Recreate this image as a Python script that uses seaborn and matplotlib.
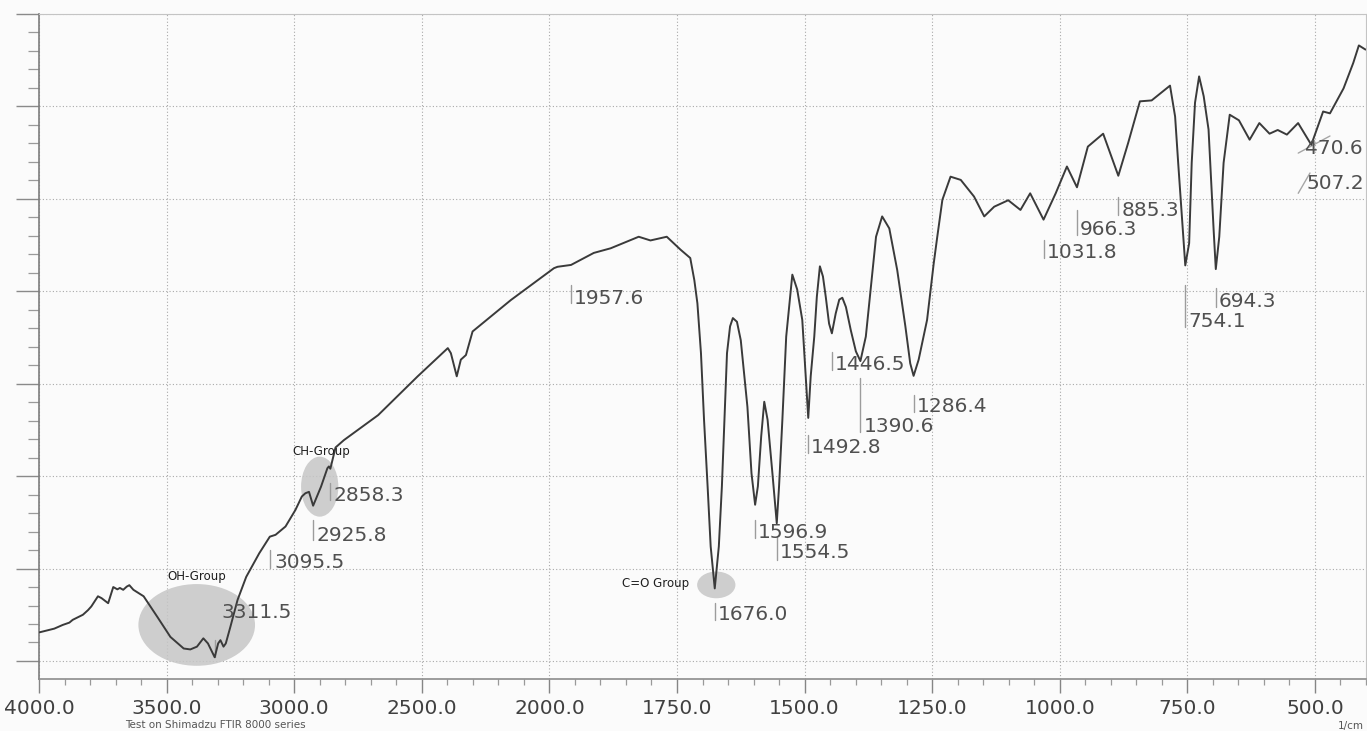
import numpy as np
import matplotlib
matplotlib.use("Agg")
import matplotlib.pyplot as plt
from matplotlib.patches import Ellipse
from matplotlib.ticker import FixedLocator, FuncFormatter, NullFormatter
import seaborn as sns

# ---------------------------------------------------------------- data
wavenumber = [
    3998, 3940, 3907, 3881, 3868, 3828, 3808, 3795, 3769, 3755, 3729, 3709,
    3693, 3683, 3670, 3656, 3646, 3630, 3590, 3537, 3485, 3433, 3407, 3381,
    3356, 3338, 3311.5, 3298, 3289, 3277, 3268, 3250, 3222, 3188, 3137,
    3095.5, 3073, 3034, 2995, 2970, 2956, 2942, 2925.8, 2895, 2870, 2864,
    2858.3, 2838, 2805, 2671, 2516, 2398, 2386, 2363, 2347, 2327, 2301, 2151,
    1991, 1984, 1957.6, 1913, 1880, 1825, 1802, 1770, 1743, 1724, 1716, 1710,
    1703, 1697, 1690, 1684, 1676.0, 1668, 1662, 1657, 1652, 1646, 1640.5,
    1632.5, 1625, 1612, 1604, 1596.9, 1591.5, 1585, 1579, 1572.5, 1563,
    1554.5, 1550, 1543.5, 1536, 1524, 1514.5, 1504.5, 1498.5, 1492.8, 1488,
    1481, 1476, 1470, 1464, 1458.5, 1452, 1446.5, 1439, 1432, 1426, 1419,
    1409.5, 1399.5, 1390.6, 1380, 1370, 1360, 1348, 1334, 1318.5, 1302.5,
    1293, 1286.4, 1276.5, 1260, 1247, 1240, 1230, 1214, 1194, 1168, 1148,
    1128.5, 1101, 1077, 1058, 1031.8, 1008, 986, 966.3, 945, 915, 885.3, 866,
    843, 820, 801, 784, 774, 768, 758, 754.1, 746.5, 741.5, 735, 727, 718,
    708.5, 698.5, 694.3, 687.5, 679, 667, 649, 628, 609, 589, 573, 555, 533,
    507.2, 484, 470.6, 444, 425, 414, 401,
]
transmittance = [
    3.1, 3.5, 3.9, 4.15, 4.45, 5.0, 5.5, 5.9, 7.0, 6.8, 6.25, 8.0,
    7.75, 7.9, 7.7, 8.05, 8.2, 7.7, 7.0, 4.8, 2.6, 1.35, 1.25, 1.55,
    2.45, 1.9, 0.4, 1.9, 2.25, 1.55, 1.9, 3.7, 6.6, 9.1, 11.65,
    13.45, 13.65, 14.55, 16.35, 17.8, 18.15, 18.3, 16.8, 18.85, 20.85, 21.05,
    20.8, 23.1, 23.9, 26.6, 30.8, 33.85, 33.3, 30.8, 32.6, 33.1, 35.65, 39.05,
    42.5, 42.65, 42.85, 44.15, 44.65, 45.9, 45.5, 45.9, 44.5, 43.6, 41.2, 38.7,
    33.3, 26.1, 18.9, 12.4, 7.85, 12.4, 18.9, 26.1, 33.3, 36.2, 37.1,
    36.7, 34.7, 27.5, 20.3, 16.9, 18.9, 24.3, 28.05, 26.1, 20.3,
    14.9, 18.9, 26.1, 35.1, 41.8, 40.2, 36.9, 31.5, 26.3, 30.8,
    35.1, 39.4, 42.7, 41.6, 39.4, 36.5, 35.45, 37.6, 39.1, 39.3, 38.3,
    35.8, 33.5, 32.45, 35.1, 40.5, 45.9, 48.1, 46.8, 42.3, 36.2,
    32.2, 30.85, 32.6, 36.9, 43.0, 45.9, 49.9, 52.4, 52.05, 50.25, 48.1,
    49.15, 49.85, 48.8, 50.6, 47.75, 50.6, 53.5, 51.25, 55.65, 57.05, 52.5, 56.05,
    60.55, 60.65, 61.5, 62.25, 58.9, 53.9, 45.9, 42.8, 45.2, 53.9, 60.4, 63.25, 61.1,
    57.5, 46.6, 42.4, 45.9, 53.9, 59.1, 58.5, 56.4, 58.2, 57.05, 57.45, 56.95, 58.2,
    55.85, 59.45, 59.25, 61.95, 64.7, 66.6, 66.15,
]

# picked peaks
peak_wn = [3311.5, 3095.5, 2925.8, 2858.3, 1957.6, 1676.0, 1596.9, 1554.5,
           1492.8, 1446.5, 1390.6, 1286.4, 1031.8, 966.3, 885.3, 754.1,
           694.3, 507.2, 470.6]
peak_text = [f"{w:.1f}" for w in peak_wn]

group_names = ["OH-Group", "CH-Group", "C=O Group"]

major_wn = [4000, 3500, 3000, 2500, 2000, 1750, 1500, 1250, 1000, 750, 500]

# ---------------------------------------------------------------- layout
# vertical marker (bottom, top) and text centre for each peak label
label_pos = {
    3311.5: dict(tick=(0.45, 2.3), ty=5.2, dx=7),
    3095.5: dict(tick=(10.1, 12.0), ty=10.7, dx=5),
    2925.8: dict(tick=(13.1, 15.3), ty=13.6, dx=3),
    2858.3: dict(tick=(17.4, 19.3), ty=17.9, dx=3),
    1957.6: dict(tick=(38.7, 40.7), ty=39.2, dx=3),
    1676.0: dict(tick=(4.44, 6.28), ty=5.0, dx=3),
    1596.9: dict(tick=(13.3, 15.3), ty=13.85, dx=3),
    1554.5: dict(tick=(10.9, 13.4), ty=11.7, dx=3),
    1492.8: dict(tick=(22.5, 24.5), ty=23.05, dx=3),
    1446.5: dict(tick=(31.5, 33.4), ty=32.1, dx=3),
    1390.6: dict(tick=(24.8, 30.6), ty=25.4, dx=3),
    1286.4: dict(tick=(26.9, 28.8), ty=27.5, dx=3),
    1031.8: dict(tick=(43.6, 45.6), ty=44.2, dx=3),
    966.3: dict(tick=(46.1, 48.8), ty=46.7, dx=3),
    885.3: dict(tick=(48.3, 50.2), ty=48.7, dx=3),
    754.1: dict(tick=(36.1, 40.7), ty=36.7, dx=3),
    694.3: dict(tick=(38.3, 40.4), ty=38.9, dx=3),
}
# the two crowded labels at the low end use slanted leaders
slanted = {
    507.2: dict(line=((532.8, 50.6), (509.7, 52.8)), tx=516.0, ty=51.7),
    470.6: dict(line=((532.8, 54.95), (470.6, 56.8)), tx=519.6, ty=55.5),
}
# (centre wn, centre T, width wn, height T, label wn, label T)
group_marks = [
    (3382, 3.9, 457, 8.84, 3382, 9.1),
    (2900, 18.86, 146, 6.49, 2895, 22.65),
    (1673, 8.23, 75, 2.89, 1792.5, 8.33),
]

# ---------------------------------------------------------------- style
sns.set_style("white")
plt.rcParams["font.family"] = ["DejaVu Sans"]

BG = "#fbfbfb"
fig = plt.figure(figsize=(13.67, 7.31), dpi=100, facecolor=BG)
ax = fig.add_axes([39 / 1367, 1 - 679 / 731, 1327 / 1367, 665 / 731])
ax.set_facecolor(BG)


# spectrometer chart: 4000-2000 at half the scale of 2000-400
def fwd(w):
    w = np.asarray(w, dtype=float)
    return np.where(w >= 2000, (w - 2000) / 500.0, (w - 2000) / 250.0)


def inv(p):
    p = np.asarray(p, dtype=float)
    return np.where(p >= 0, 2000 + 500.0 * p, 2000 + 250.0 * p)


ax.set_xscale("function", functions=(fwd, inv))

sns.lineplot(x=wavenumber, y=transmittance, ax=ax, color="#3a3a3a",
             linewidth=1.4, sort=False, estimator=None, zorder=4)

ax.set_xlim(4000, 400)
ax.set_ylim(-1.95, 70)

minor_wn = [w for w in range(4000, 2000, -100)] + [w for w in range(2000, 399, -50)]
minor_wn = [w for w in minor_wn if w not in major_wn]
ax.xaxis.set_major_locator(FixedLocator(major_wn))
ax.xaxis.set_minor_locator(FixedLocator(minor_wn))
ax.xaxis.set_major_formatter(FuncFormatter(lambda v, pos: f"{v:.1f}"))
ax.xaxis.set_minor_formatter(NullFormatter())
ax.yaxis.set_major_locator(FixedLocator(list(range(0, 71, 10))))
ax.yaxis.set_minor_locator(FixedLocator(list(range(0, 71, 2))))

ax.tick_params(which="both", bottom=True, left=True, top=False, right=False)
ax.tick_params(axis="x", which="major", direction="out", length=10,
               width=1.0, color="#858585", labelsize=14.5,
               labelcolor="#404040", pad=4.5)
ax.tick_params(axis="x", which="minor", direction="out", length=4.5,
               width=0.9, color="#999999")
ax.tick_params(axis="y", which="major", direction="out", length=16.5,
               width=1.0, color="#8a8a8a", labelleft=False)
ax.tick_params(axis="y", which="minor", direction="out", length=8,
               width=0.9, color="#9a9a9a", labelleft=False)

ax.grid(True, which="major", linestyle=(0, (1, 2)), color="#a9a9a9",
        linewidth=0.8, zorder=0)
ax.set_axisbelow(True)

ax.spines["left"].set_color("#7d7d7d")
ax.spines["left"].set_linewidth(1.2)
ax.spines["bottom"].set_color("#8c8c8c")
ax.spines["bottom"].set_linewidth(1.2)
ax.spines["top"].set_color("#c4c4c4")
ax.spines["top"].set_linewidth(0.8)
ax.spines["right"].set_color("#c4c4c4")
ax.spines["right"].set_linewidth(0.8)
ax.set_xlabel("")
ax.set_ylabel("")

# shaded functional-group markers
for (cx, cy, ew, eh, lx, ly), name in zip(group_marks, group_names):
    ax.add_patch(Ellipse((cx, cy), ew, eh, facecolor="#c6c6c6",
                         edgecolor="none", alpha=0.85, zorder=2))
    ax.text(lx, ly, name, ha="center", va="center", fontsize=8.5,
            color="#1e1e1e", zorder=5)

# peak labels
lab_kw = dict(fontsize=14.5, color="#505050", zorder=5)
for w, txt in zip(peak_wn, peak_text):
    if w in label_pos:
        lp = label_pos[w]
        ax.plot([w, w], lp["tick"], color="#9c9c9c", linewidth=1.0, zorder=3)
        ax.annotate(txt, xy=(w, lp["ty"]), xytext=(lp["dx"], 0),
                    textcoords="offset pixels", ha="left", va="center",
                    **lab_kw)
    else:
        sp = slanted[w]
        (x0, y0), (x1, y1) = sp["line"]
        ax.plot([x0, x1], [y0, y1], color="#a6a6a6", linewidth=1.0, zorder=3)
        ax.text(sp["tx"], sp["ty"], txt, ha="left", va="center", **lab_kw)

# footer of the printout
fig.text(125 / 1367, 1 - 730.5 / 731, "Test on Shimadzu FTIR 8000 series",
         ha="left", va="bottom", fontsize=7.5, color="#555555")
fig.text(1364 / 1367, 1 - 730.5 / 731, "1/cm", ha="right", va="bottom",
         fontsize=7.5, color="#555555")

fig.savefig("out.png", dpi=100, facecolor=BG)
